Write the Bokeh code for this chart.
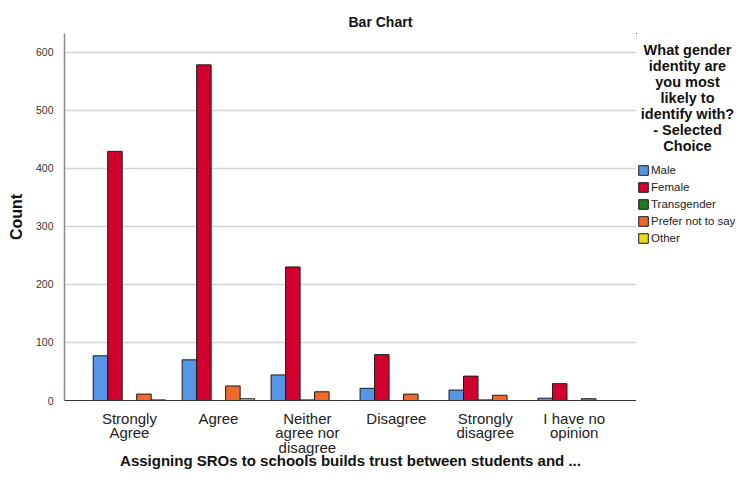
from bokeh.plotting import figure
from bokeh.models import (ColumnDataSource, Range1d, FixedTicker, Label, Legend, LegendItem)
from bokeh.layouts import row
from bokeh.transform import dodge
from bokeh.embed import file_html
from bokeh.resources import INLINE

# ---------------- data ----------------
categories = ["Strongly\nAgree", "Agree", "Neither\nagree nor\ndisagree", "Disagree",
              "Strongly\ndisagree", "I have no\nopinion"]
male = [77, 70, 44, 21, 18, 4]
female = [429, 578, 230, 79, 42, 29]
transgender = [0, 0, 1, 0, 1, 0]
prefer_not = [11, 25, 15, 11, 9, 3]
other = [1, 3, 0, 0, 0, 0]
series_names = ["Male", "Female", "Transgender", "Prefer not to say", "Other"]
y_ticks = [0, 100, 200, 300, 400, 500, 600]
title_text = "Bar Chart"
x_title = "Assigning SROs to schools builds trust between students and ..."
y_title = "Count"
legend_title_lines = ["What gender", "identity are", "you most", "likely to",
                      "identify with?", "- Selected", "Choice"]

# ---------------- style / layout ----------------
colors = ["#5596E6", "#D2002F", "#217D21", "#F2682A", "#E6DC14"]
FONT = "Liberation Sans"
MAIN_W, LEG_W, H = 636, 100, 473
L, T, B = 64, 33, 73
X0, X1 = -0.73, 5.70
Y0, Y1 = 0, 632

idx = list(range(len(categories)))
src = ColumnDataSource(dict(x=idx, male=male, female=female, transgender=transgender,
                            prefer_not=prefer_not, other=other))

p = figure(width=MAIN_W, height=H, output_backend="svg", toolbar_location=None,
           x_range=Range1d(X0, X1), y_range=Range1d(Y0, Y1),
           min_border_left=L, min_border_right=0, min_border_top=T, min_border_bottom=B)
p.outline_line_color = None

bw = 0.163
fields = ["male", "female", "transgender", "prefer_not", "other"]
for k, (f, c) in enumerate(zip(fields, colors)):
    p.vbar(x=dodge("x", (k - 2) * bw, range=p.x_range), top=f, width=bw, bottom=0,
           source=src, fill_color=c, line_color="#1a1a1a", line_width=1)

# title
p.title.text = title_text
p.title.align = "left"
p.title.offset = 284
p.title.text_font = FONT
p.title.text_font_size = "14px"
p.title.text_font_style = "bold"
p.title.text_color = "#111111"
p.title.standoff = 8

# axes
p.xaxis.ticker = FixedTicker(ticks=idx)
p.xaxis.major_label_overrides = {i: c for i, c in zip(idx, categories)}
p.xaxis.major_tick_line_color = None
p.xaxis.minor_tick_line_color = None
p.xaxis.axis_line_color = "#333333"
p.xaxis.axis_line_width = 1
p.xaxis.major_label_text_font = FONT
p.xaxis.major_label_text_font_size = "15px"
p.xaxis.major_label_text_color = "#222222"
p.xaxis.major_label_text_line_height = 0.86
p.xaxis.major_label_standoff = 3
p.xaxis.axis_label = x_title
p.xaxis.axis_label_text_font = FONT
p.xaxis.axis_label_text_font_size = "15px"
p.xaxis.axis_label_text_font_style = "bold"
p.xaxis.axis_label_text_color = "#111111"
p.xaxis.axis_label_standoff = -7

p.yaxis.ticker = FixedTicker(ticks=y_ticks)
p.yaxis.major_tick_line_color = None
p.yaxis.minor_tick_line_color = None
p.yaxis.axis_line_color = "#8a8a8a"
p.yaxis.axis_line_width = 1.5
p.yaxis.major_label_text_font = FONT
p.yaxis.major_label_text_font_size = "10.5px"
p.yaxis.major_label_text_color = "#333333"
p.yaxis.major_label_standoff = 5
p.yaxis.axis_label = y_title
p.yaxis.axis_label_text_font = FONT
p.yaxis.axis_label_text_font_size = "16px"
p.yaxis.axis_label_text_font_style = "bold"
p.yaxis.axis_label_text_color = "#111111"
p.yaxis.axis_label_standoff = 8

p.xgrid.grid_line_color = None
p.ygrid.ticker = FixedTicker(ticks=y_ticks)
p.ygrid.grid_line_color = "#d4d4d4"
p.ygrid.grid_line_width = 1.5

# ---------------- legend panel (separate figure beside the main plot) ----------------
FRAME_TOP, FRAME_BOTTOM = T, H - B
lg = figure(width=LEG_W, height=H, output_backend="svg", toolbar_location=None,
            x_range=Range1d(0, LEG_W), y_range=Range1d(FRAME_BOTTOM, FRAME_TOP),
            x_axis_type=None, y_axis_type=None,
            min_border_left=0, min_border_right=0, min_border_top=T, min_border_bottom=B)
lg.outline_line_color = None
lg.xgrid.visible = False
lg.ygrid.visible = False

# off-range placeholder glyphs that only supply the legend swatches
dummy = ColumnDataSource(dict(x=[-1000], top=[0]))
leg_renderers = [lg.vbar(x="x", top="top", width=1, source=dummy, fill_color=c,
                         line_color="#1a1a1a", line_width=1) for c in colors]

for i, line in enumerate(legend_title_lines):
    lg.add_layout(Label(x=51, y=49 + 16 * i, text=line, text_font=FONT,
                        text_font_size="14.5px", text_font_style="bold", text_align="center",
                        text_baseline="alphabetic", text_color="#111111"))

legend = Legend(items=[LegendItem(label=n, renderers=[r]) for n, r in zip(series_names, leg_renderers)],
                location=(1, FRAME_BOTTOM - 245), orientation="vertical",
                border_line_color=None, background_fill_alpha=0,
                padding=0, margin=0, spacing=3, glyph_width=12, glyph_height=12,
                label_height=14, label_standoff=2,
                label_text_font=FONT, label_text_font_size="11.5px", label_text_color="#222222")
lg.add_layout(legend, "center")

layout = row(p, lg)
open("out.html", "w").write(file_html(layout, INLINE))
